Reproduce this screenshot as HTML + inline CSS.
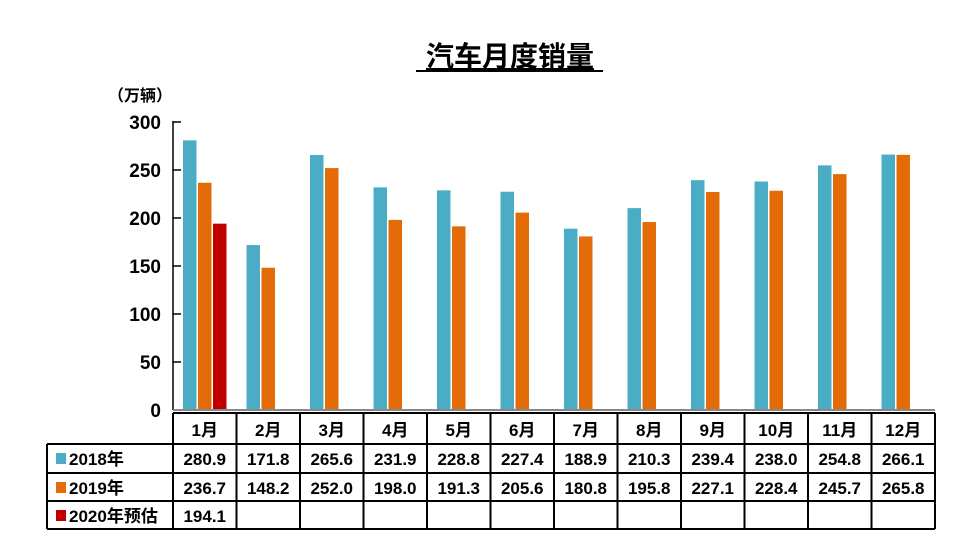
<!DOCTYPE html>
<html><head><meta charset="utf-8"><style>
body{margin:0;background:#fff;font-family:"Liberation Sans","Noto Sans CJK SC",sans-serif;}
svg text{font-family:"Liberation Sans","Noto Sans CJK SC",sans-serif;font-weight:bold;}
</style></head><body>
<svg id="c" width="962" height="549">
<text x="510" y="66" font-size="28" text-anchor="middle" text-decoration="underline">汽车月度销量</text>
<line x1="416" y1="71" x2="603" y2="71" stroke="#000" stroke-width="2"/>
<text x="140" y="101" font-size="16" text-anchor="middle">（万辆）</text>
</svg>
<script>
const categories=["1月","2月","3月","4月","5月","6月","7月","8月","9月","10月","11月","12月"];
const s2018=[280.9,171.8,265.6,231.9,228.8,227.4,188.9,210.3,239.4,238.0,254.8,266.1];
const s2019=[236.7,148.2,252.0,198.0,191.3,205.6,180.8,195.8,227.1,228.4,245.7,265.8];
const s2020=[194.1];
const yTicks=[0,50,100,150,200,250,300];
const seriesNames=["2018年","2019年","2020年预估"];
const colors=["#4bacc6","#e36c09","#c00000"];
const svg=document.getElementById('c');const NS="http://www.w3.org/2000/svg";
const X0=173,X1=935,Y0=410,Y300=122;
const cw=(X1-X0)/categories.length;
const y=v=>Y0-(v/300)*(Y0-Y300);
const xc=i=>X0+i*cw;
function mk(t,a){const e=document.createElementNS(NS,t);for(const k in a)e.setAttribute(k,a[k]);svg.appendChild(e);return e;}
function txt(x,yy,s,size,anchor){const e=mk('text',{x:x,y:yy,'font-size':size,'text-anchor':anchor});e.textContent=s;return e;}
yTicks.forEach(v=>{
 const t=txt(161,y(v)+7,String(v),19,'end');
 
 
 const l=mk('line',{x1:X0,x2:X0+8,y1:y(v),y2:y(v),stroke:'#000','stroke-width':1.5});
 
 
});
const ax=mk('line',{x1:X0,x2:X0,y1:Y300-1,y2:Y0,stroke:'#000','stroke-width':1.5});


const series=[s2018,s2019,s2020];
series.forEach((arr,si)=>arr.forEach((v,i)=>{
 const r=mk('rect',{x:xc(i)+10+si*15,y:y(v),width:13.5,height:Y0-y(v),fill:colors[si]});
 
 
}));
const bx=mk('line',{x1:X0,x2:X1,y1:Y0,y2:Y0,stroke:'#888','stroke-width':2});


// table
const rows=[413,444,473,501,529];const LX=47;
const lines=[];
lines.push([X0,rows[0],X1,rows[0]]);
for(let r=1;r<rows.length;r++)lines.push([LX,rows[r],X1,rows[r]]);
lines.push([LX,rows[1],LX,rows[4]]);
for(let i=0;i<=categories.length;i++)lines.push([xc(i),rows[0],xc(i),rows[4]]);
lines.forEach(p=>{const l=mk('line',{x1:p[0],y1:p[1],x2:p[2],y2:p[3],stroke:'#000','stroke-width':2});
 
 });
categories.forEach((c,i)=>{const t=txt(xc(i)+cw/2,rows[0]+23,c,17,'middle');
 
 });
series.forEach((arr,si)=>{
 const ry=rows[si+1];
 const sw=mk('rect',{x:56,y:ry+9,width:10,height:11,fill:colors[si]});
 
 
 const lt=txt(69,ry+21,seriesNames[si],17,'start');
 
 
 arr.forEach((v,i)=>{const t=txt(xc(i)+cw/2,ry+21,v.toFixed(1),17,'middle');
  
  });
});
</script>
</body></html>
